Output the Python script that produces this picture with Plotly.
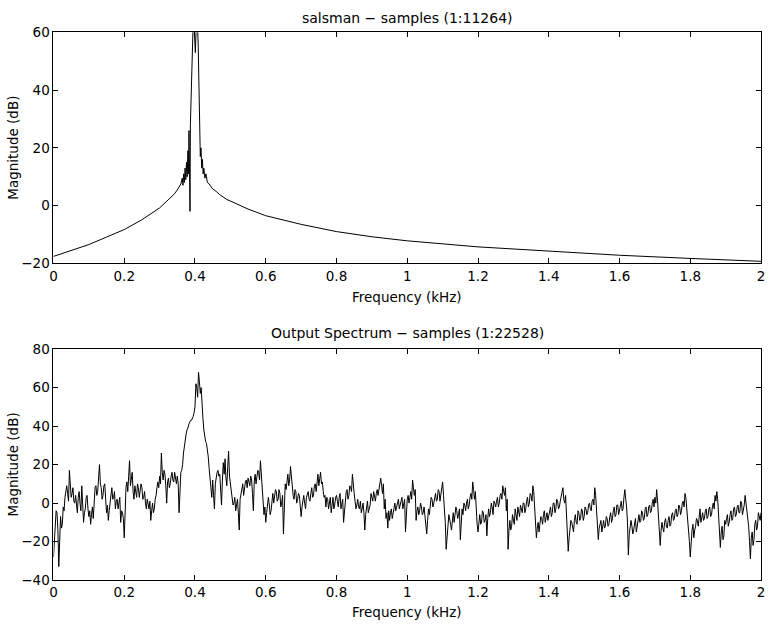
import numpy as np
import plotly.graph_objects as go

# ---------------- data ----------------
top_title = "salsman \u2212 samples (1:11264)"
bottom_title = "Output Spectrum \u2212 samples (1:22528)"
x_label = "Frequency (kHz)"
y_label = "Magnitude (dB)"

x_ticks = [0, 0.2, 0.4, 0.6, 0.8, 1.0, 1.2, 1.4, 1.6, 1.8, 2.0]
x_tick_text = ["0", "0.2", "0.4", "0.6", "0.8", "1", "1.2", "1.4", "1.6", "1.8", "2"]
top_y_ticks = [-20, 0, 20, 40, 60]
bottom_y_ticks = [-40, -20, 0, 20, 40, 60, 80]

# top: salsman spectrum (kHz, dB)
top_freq = [0, 0.05, 0.1, 0.15, 0.2, 0.25, 0.3, 0.32, 0.34, 0.35, 0.36,
            0.364, 0.366, 0.368, 0.370, 0.372, 0.374, 0.376, 0.378, 0.380,
            0.382, 0.383, 0.3845, 0.386, 0.387, 0.389, 0.391, 0.393, 0.395,
            0.397, 0.399, 0.401, 0.403, 0.405, 0.407, 0.409, 0.411, 0.413,
            0.415, 0.417, 0.419, 0.421, 0.423, 0.425, 0.428, 0.431, 0.435,
            0.44, 0.445, 0.45, 0.46, 0.47, 0.49, 0.5, 0.55, 0.6, 0.7, 0.8,
            0.9, 1.0, 1.2, 1.4, 1.6, 1.8, 2.0]
top_db = [-17.6, -15.5, -13.5, -10.9, -8.3, -4.9, -0.8, 1.5, 3.8, 5.4, 7.5,
          9.5, 7, 11, 8, 13, 9, 15, 10, 19,
          11, 26, 8, -2, 28, 42, 52, 60, 64,
          63, 58, 53, 60, 64, 63, 56, 45, 28,
          17, 20, 13, 16, 11, 13, 9.5, 11, 8,
          7.5, 6.5, 5.8, 4.9, 3.8, 2.1, 1.6, -1.2, -3.5, -6.5, -9,
          -10.8, -12.2, -14.3, -15.8, -17.2, -18.3, -19.3]

# bottom: output spectrum
# values read every 0.005 kHz, starting at 0 kHz
out_db_a = [
    -28, -9, -5, -33, -7, -11, -4, 6, 5, 17,
    3, 8, 0, -3, 3, 0, 9, -10, -3, 4,
    -7, -11, -2, 3, 9, 6, 20, 8, 4, 10,
    -5, -9, 1, 8, 3, -3, 2, 0, -10, -5,
    -18, 8, 6, 22, 12, 6, 9, 3, 8, 6,
    8, 3, 0, 2, -3, -9, 0, -3, 4, 11,
    14, 26, 12, 15, 0, 13, 10, 16, 11, 13,
    14, -5, 16, 20, 30, 36, 39, 42, 43, 45,
    50, 60, 68, 57, 48, 38, 32, 28, 18, 8,
    12, -3, 14, 17, 15, -1, 21, 23, 9, 27,
    10, 4, 0, -4, 2, -14, 5, 10, 8, 12,
    13, 9, 12, -4, 15, 13, 16, 22, 8, -6,
    -10, 1, -1, -4, 5, 3, 6, 2, 5, 0,
    -16, 10, 13, 9, 19, 8, 2, 6, 2, 4,
    -7, 2, 0, 3, 6, 1, 8, 4, 10, 13,
    9, 16, 11, 3, -2, 2, 0, -5, 3, -1,
    4, -2, 5, 0, -10, 3, 7, 4, 8, 15,
    5, -3, 2, -3, -5, 0, -14, -2, -5, -1,
    3, 6, 1, 7, 8, 13, 5, -3, -8, -13,
    -9, -3, -5, 0, -2, 2, -1, 3, 0, -15,
    2, 0, 6, 12, 4, -9, -2, -4, -2, -5,
    -8, -16, -3, -1, 2, 0, 5, 2, 6, 4,
    11, -3, -24, -12, -8, -14, -5, -7, -4, -6,
    -19, -3, 0, -4, 2, -1, 5, 11, 2, -8,
    -15, -6, -10, -5, -9, -17, -3, -5, -2, 1,
    -2, 3, 0, 5, 9, 4, -4, -24, -9, -12,
    -8, -3, -9, -4, -1, -5, 0, -3, 3, 0,
    4, 9, -2, -18, -10, -12, -8, -6, -10, -5,
    -7, -2, -5, 0, -3, 1, -2, 3, 8, 0,
    -6, -25, -14, -10, -15, -6, -11, -5, -8, -4,
    -7, -3, -5, 0, -4, 2, 8, -6, -19, -11,
    -15, -9, -12, -8, -11, -5, -8, -2, -6, -1,
    -4, 1, -3, 7, -2, -27, -13, -12, -14, -8,
    -12, -6, -9, -5, -8, -2, -6, -1, -4, 2,
    3, 7, -9, -22, -10, -15, -8, -13, -7, -11,
    -5, -8, -3, -6, -2, -4, 1, 5, -2, -12,
    -28, -14, -18, -12, -9, -6, -10, -5, -8, -3,
    -7, -2, -6, 0, 4, 6, -8, -23, -12, -17,
    -11, -6, -10, -4, -8, -2, -6, -1, -5, 0,
    -4, 4, -2, -12, -29, -15, -19, -9, -12, -7,
    -5,
]
# values read in between, every 0.005 kHz starting at 0.0025 kHz
out_db_b = [
    -19, -4, -14, -12, -13, -2, 3, 9, 1, 9,
    5, 1, 4, -5, 6, -4, 2, -5, 3, -3,
    -4, -6, -8, 8, 4, 12, 10, 2, 9, 2,
    -1, -4, 6, 2, 6, 1, -3, 3, -4, -8,
    -2, 11, 14, 9, 16, 2, 5, 10, 3, 10,
    2, 6, -3, -1, 1, -4, -5, 2, 8, 8,
    10, 16, 17, 9, 11, 8, 14, 12, 16, 10,
    10, 12, 17, 26, 34, 38, 41, 43, 44, 47,
    62, 55, 63, 60, 44, 34, 31, 24, 11, 3,
    4, 10, 16, 14, 7, 12, 15, 13, 19, 14,
    6, -1, 3, 0, -5, 2, 8, 4, 11, 8,
    11, 14, 5, 11, 10, 17, 12, 15, 2, -2,
    -5, 3, -6, 2, 0, 7, 1, 7, -2, 4,
    5, 7, 15, 12, 13, 4, 7, 0, 5, 0,
    -2, 4, -3, 5, 2, 5, 3, 9, 6, 15,
    13, 10, 6, 4, 3, -3, 3, 0, -3, 3,
    1, 3, -3, 2, -4, 6, 2, 9, 6, 8,
    1, -1, -2, 1, -3, -5, -6, 1, -2, 5,
    1, 4, 5, 4, 11, 9, 10, 2, -5, -4,
    -5, -8, -1, -4, 1, -3, 1, -3, 2, -3,
    4, 3, 2, 8, 7, -4, -6, 0, -6, -2,
    -12, -9, -6, 3, -2, 4, 1, 7, 1, 8,
    4, -10, -15, -6, -11, -9, -10, -2, -8, -3,
    -8, -6, -1, 0, -3, 3, 2, 7, 6, -11,
    -9, -11, -4, -10, -6, -8, -7, 0, -6, 0,
    1, -2, 4, 2, 6, 8, 2, -14, -14, -6,
    -11, -6, -2, -7, -3, 0, -5, 1, -2, 5,
    1, 6, -9, -13, -15, -7, -11, -4, -7, -9,
    -4, -7, 0, -5, 2, -3, 1, 5, 2, 4,
    -12, -18, -9, -13, -9, -10, -4, -9, -3, -9,
    -2, -6, -1, -3, 1, -1, 4, -11, -13, -9,
    -11, -13, -7, -12, -7, -10, -4, -7, -1, -6,
    -1, -4, 3, 2, -10, -16, -9, -16, -9, -15,
    -8, -10, -4, -9, -3, -7, -2, -5, 0, -2,
    0, 1, -14, -14, -13, -10, -12, -9, -12, -6,
    -9, -4, -7, -1, -6, 0, -2, 3, -7, -20,
    -19, -11, -14, -8, -12, -3, -7, -9, -4, -8,
    -3, -7, -2, -3, 1, 2, -14, -15, -19, -9,
    -8, -12, -6, -9, -3, -7, -2, -5, 1, -6,
    -1, 0, -8, -20, -18, -22, -11, -14, -5, -9,
]

# build the interleaved series (table for the library)
freq_a = np.linspace(0, 2, len(out_db_a))
freq_b = freq_a[:-1] + 0.0025
out_freq = np.empty(len(out_db_a) + len(out_db_b))
out_db = np.empty_like(out_freq)
out_freq[0::2] = freq_a
out_freq[1::2] = freq_b
out_db[0::2] = out_db_a
out_db[1::2] = out_db_b

# ---------------- figure ----------------
W, H = 769, 630
FONT = "DejaVu Sans, Verdana, sans-serif"
FS = 13.5
FS_TITLE = 14

def px_x(p):
    return p / W

def px_y(p):
    return 1 - p / H

fig = go.Figure()
fig.add_trace(go.Scatter(x=top_freq, y=top_db, mode="lines",
                         line=dict(color="black", width=1),
                         xaxis="x", yaxis="y", showlegend=False,
                         hoverinfo="skip"))
fig.add_trace(go.Scatter(x=out_freq, y=out_db, mode="lines",
                         line=dict(color="black", width=1),
                         xaxis="x2", yaxis="y2", showlegend=False,
                         hoverinfo="skip"))

xdom = [px_x(50), px_x(765)]
top_dom = [px_y(262), px_y(25)]
bot_dom = [px_y(587), px_y(350)]

axis_common = dict(showline=True, linecolor="black", linewidth=1,
                   mirror="allticks", ticks="inside", ticklen=5,
                   tickcolor="black", tickwidth=1, showgrid=False,
                   zeroline=False, ticklabeloverflow="allow",
                   tickfont=dict(family=FONT, size=FS, color="black"))

XR = [0, 2.00001]
fig.update_layout(
    width=W, height=H,
    margin=dict(l=0, r=0, t=0, b=0),
    paper_bgcolor="white", plot_bgcolor="white",
    font=dict(family=FONT, size=FS, color="black"),
    xaxis=dict(domain=xdom, range=XR, anchor="y",
               tickvals=x_ticks, ticktext=x_tick_text, **axis_common),
    yaxis=dict(domain=top_dom, range=[-20, 60.00001], anchor="x",
               tickvals=top_y_ticks, **axis_common),
    xaxis2=dict(domain=xdom, range=XR, anchor="y2",
                tickvals=x_ticks, ticktext=x_tick_text, **axis_common),
    yaxis2=dict(domain=bot_dom, range=[-40, 80.00001], anchor="x2",
                tickvals=bottom_y_ticks, **axis_common),
)

cx = (xdom[0] + xdom[1]) / 2
ann = [
    dict(text=top_title, x=cx, y=px_y(10), fs=FS_TITLE),
    dict(text=x_label, x=cx, y=px_y(297), fs=FS),
    dict(text=y_label, x=px_x(9), y=(top_dom[0] + top_dom[1]) / 2,
         textangle=-90, fs=FS),
    dict(text=bottom_title, x=cx, y=px_y(333), fs=FS_TITLE),
    dict(text=x_label, x=cx, y=px_y(620), fs=FS),
    dict(text=y_label, x=px_x(9), y=(bot_dom[0] + bot_dom[1]) / 2,
         textangle=-90, fs=FS),
]
for a in ann:
    fs = a.pop("fs")
    fig.add_annotation(xref="paper", yref="paper", showarrow=False,
                       xanchor="center", yanchor="middle",
                       font=dict(family=FONT, size=fs, color="black"), **a)

fig.write_html("out.html")
